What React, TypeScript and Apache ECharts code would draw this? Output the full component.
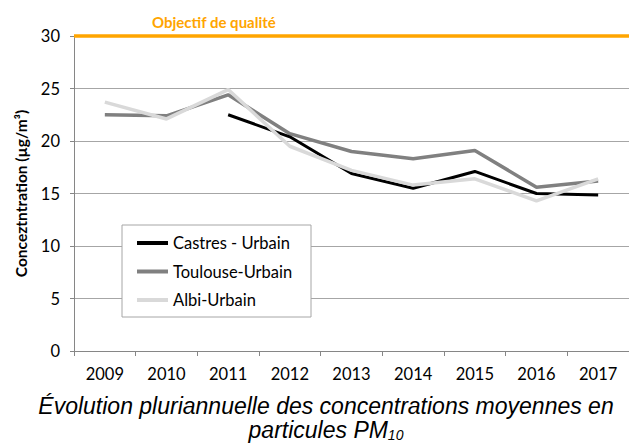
import React, { useEffect, useRef } from "react";
import * as echarts from "echarts";

const years = ["2009", "2010", "2011", "2012", "2013", "2014", "2015", "2016", "2017"];
const castres = [null, null, 22.5, 20.4, 16.9, 15.5, 17.1, 15.0, 14.85];
const toulouse = [22.5, 22.4, 24.4, 20.7, 19.0, 18.3, 19.1, 15.6, 16.2];
const albi = [23.7, 22.1, 24.9, 19.5, 17.2, 15.8, 16.4, 14.3, 16.4];
const objectif = 30;
const yTicks = { min: 0, max: 30, interval: 5 };

const FONT = "Lato";

export default function App() {
  const ref = useRef<HTMLDivElement>(null);
  useEffect(() => {
    document.body.style.margin = "0";
    const chart = echarts.init(ref.current!, null, { renderer: "svg" });
    chart.setOption({
      animation: false,
      backgroundColor: "#ffffff",
      textStyle: { fontFamily: FONT },
      title: {
        text: "Objectif de qualité",
        left: 152,
        top: 14,
        padding: 0,
        textStyle: { color: "#FFA500", fontSize: 15, fontWeight: "bold", fontFamily: FONT },
      },
      grid: { left: 74, top: 36, right: -10, bottom: 92 },
      legend: {
        orient: "vertical",
        left: 122,
        top: 225,
        padding: [9, 18, 8, 15],
        itemGap: 10.5,
        itemWidth: 31,
        itemHeight: 4,
        icon: "rect",
        z: 6,
        textStyle: { fontSize: 16.5, lineHeight: 18, color: "#000", fontFamily: FONT },
        data: ["Castres - Urbain", "Toulouse-Urbain", "Albi-Urbain"],
      },
      graphic: [
        {
          type: "rect",
          z: 5,
          shape: { x: 122, y: 225, width: 189, height: 92 },
          style: { fill: "#fff", stroke: "#a6a6a6", lineWidth: 1 },
        },
        {
          type: "text",
          x: 326,
          y: 394,
          style: {
            text: "Évolution pluriannuelle des concentrations moyennes en\nparticules PM{sub|10}",
            align: "center",
            verticalAlign: "top",
            fontFamily: "Liberation Sans",
            fontStyle: "italic",
            fontSize: 23,
            lineHeight: 24,
            fill: "#000",
            rich: {
              sub: {
                fontFamily: "Liberation Sans",
                fontStyle: "italic",
                fontSize: 14,
                verticalAlign: "bottom",
                padding: [9, 0, 0, 0],
                fill: "#000",
              },
            },
          },
        },
      ],
      xAxis: {
        type: "category",
        data: years,
        boundaryGap: true,
        axisLine: { lineStyle: { color: "#868686", width: 1 } },
        axisTick: { show: true, length: 5, lineStyle: { color: "#868686" } },
        axisLabel: { color: "#000", fontSize: 16.5, margin: 14, fontFamily: FONT },
        splitLine: { show: false },
      },
      yAxis: {
        type: "value",
        min: yTicks.min,
        max: yTicks.max,
        interval: yTicks.interval,
        name: "Conceztntration (µg/m³)",
        nameLocation: "middle",
        nameGap: 45,
        nameTextStyle: { color: "#000", fontSize: 15.5, fontWeight: "bold", fontFamily: FONT },
        axisLine: { show: true, lineStyle: { color: "#868686", width: 1 } },
        axisTick: { show: true, length: 4, lineStyle: { color: "#868686" } },
        axisLabel: { color: "#000", fontSize: 16.5, margin: 14, fontFamily: FONT },
        splitLine: { show: true, lineStyle: { color: "#a6a6a6", width: 1 } },
      },
      series: [
        {
          name: "Castres - Urbain",
          type: "line",
          data: castres,
          color: "#000000",
          symbol: "none",
          connectNulls: false,
          lineStyle: { width: 3, color: "#000000" },
          z: 3,
          markLine: {
            silent: true,
            symbol: "none",
            label: { show: false },
            lineStyle: { color: "#FFA500", width: 3.5, type: "solid" },
            data: [{ yAxis: objectif }],
          },
        },
        {
          name: "Toulouse-Urbain",
          type: "line",
          data: toulouse,
          color: "#808080",
          symbol: "none",
          lineStyle: { width: 3.5, color: "#808080" },
          z: 2,
        },
        {
          name: "Albi-Urbain",
          type: "line",
          data: albi,
          color: "#d9d9d9",
          symbol: "none",
          lineStyle: { width: 3.5, color: "#d9d9d9" },
          z: 3,
        },
      ],
    });
    return () => chart.dispose();
  }, []);
  return <div ref={ref} style={{ width: 629, height: 443 }} />;
}
